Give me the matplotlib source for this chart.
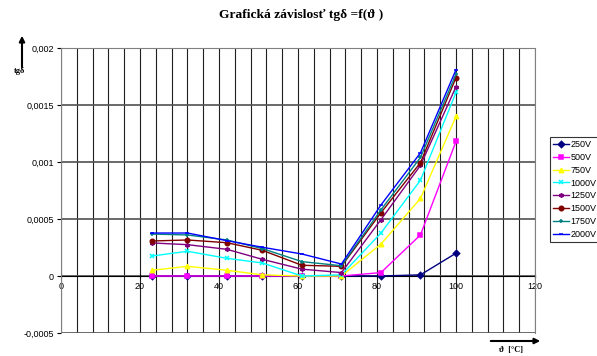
import matplotlib
matplotlib.use('Agg')
import matplotlib.pyplot as plt
import numpy as np

# temperature [deg C] of the measured points
teplota = [23, 32, 42, 51, 61, 71, 81, 91, 100]

# tg delta for each test voltage
tg250 = [0, 0, 0, 0, 0, 0, 0, 0.00001, 0.0002]
tg500 = [0, 0, 0, 0, 0, 0, 0.00003, 0.00036, 0.00118]
tg750 = [0.00005, 0.000085, 0.00005, 0.00001, 0, 0, 0.00028, 0.00068, 0.0014]
tg1000 = [0.000175, 0.000217, 0.000155, 0.000114, 0, 0.00001, 0.000377, 0.00084, 0.00161]
tg1250 = [0.00029, 0.000275, 0.000234, 0.000146, 0.00006, 0.00003, 0.000494, 0.00097, 0.00166]
tg1500 = [0.000307, 0.000316, 0.000292, 0.000225, 0.000094, 0.000085, 0.000555, 0.000994, 0.00174]
tg1750 = [0.000368, 0.00036, 0.000316, 0.00024, 0.000126, 0.00009, 0.00058, 0.00104, 0.00177]
tg2000 = [0.000377, 0.000377, 0.00031, 0.000252, 0.000193, 0.000105, 0.000623, 0.00108, 0.00181]

serie = [('250V', tg250, '#000080', 'D'),
         ('500V', tg500, '#FF00FF', 's'),
         ('750V', tg750, '#FFFF00', '^'),
         ('1000V', tg1000, '#00FFFF', 'x'),
         ('1250V', tg1250, '#800080', (6, 2, 0)),
         ('1500V', tg1500, '#800000', 'o'),
         ('1750V', tg1750, '#008080', '+'),
         ('2000V', tg2000, '#0000FF', '_')]

xticks = [0, 20, 40, 60, 80, 100, 120]
yticks = [-0.0005, 0, 0.0005, 0.001, 0.0015, 0.002]
ylabels = ['-0,0005', '0', '0,0005', '0,001', '0,0015', '0,002']

fig = plt.figure(figsize=(5.97, 3.56), dpi=100)
ax = fig.add_axes([61/597, 1-333/356, (535-61)/597, (333-48)/356])

# vertical grid every 4 degrees
for xv in np.arange(0, 121, 4):
    ax.axvline(xv, color='#202020', lw=0.8, zorder=1)
for yv in yticks:
    ax.axhline(yv, color='#505050', lw=1.2, zorder=1)

for nazov, hodnoty, farba, znacka in serie:
    ax.plot(teplota, hodnoty, color=farba, lw=1, marker=znacka, ms=3.2,
            mew=1.1, label=nazov, zorder=3)

ax.set_xlim(0, 120)
ax.set_ylim(-0.0005, 0.002)
ax.set_yticks(yticks)
ax.set_yticklabels(ylabels)
ax.set_xticks(xticks)
ax.set_xticklabels([str(v) for v in xticks])
ax.spines['bottom'].set_position(('data', 0))
ax.spines['bottom'].set_color('black')
ax.spines['bottom'].set_zorder(2)
for s in ['top', 'left', 'right']:
    ax.spines[s].set_color('#808080')
ax.tick_params(axis='both', labelsize=6.5, length=3, width=0.8, pad=2,
               labelfontfamily='Liberation Sans')
ax.tick_params(axis='x', direction='inout', pad=3)

# title and axis arrows
fig.text(301/597, 1-15/356, 'Grafická závislosť tgδ =f(ϑ )', ha='center', va='center',
         fontsize=9.7, fontweight='bold', family=['Liberation Serif', 'DejaVu Serif'])
fig.add_artist(matplotlib.patches.FancyArrowPatch((22/597, 1-70/356), (22/597, 1-33/356),
               transform=fig.transFigure, arrowstyle='-|>', mutation_scale=8,
               color='black', lw=1.5))
fig.text(19/597, 1-71/356, 'tgδ', ha='center', va='center', fontsize=6,
         fontweight='bold', family=['Liberation Serif', 'DejaVu Serif'])
fig.add_artist(matplotlib.patches.FancyArrowPatch((488/597, 1-341/356), (543/597, 1-341/356),
               transform=fig.transFigure, arrowstyle='-|>', mutation_scale=8,
               color='black', lw=1.5))
fig.text(511/597, 1-350/356, 'ϑ  [°C]', ha='center', va='center', fontsize=6,
         fontweight='bold', family=['Liberation Serif', 'DejaVu Serif'])

leg = fig.legend(loc='upper left', bbox_to_anchor=(550/597, 1-137/356),
                 prop={'family': 'Liberation Sans', 'size': 6.5}, frameon=True,
                 fancybox=False, edgecolor='black', handlelength=1.7,
                 labelspacing=0.42, borderpad=0.35, handletextpad=0.25,
                 borderaxespad=0)
leg.get_frame().set_linewidth(0.8)
for h in leg.legend_handles:
    h.set_markersize(3.2)

fig.savefig('out.png', dpi=100)
